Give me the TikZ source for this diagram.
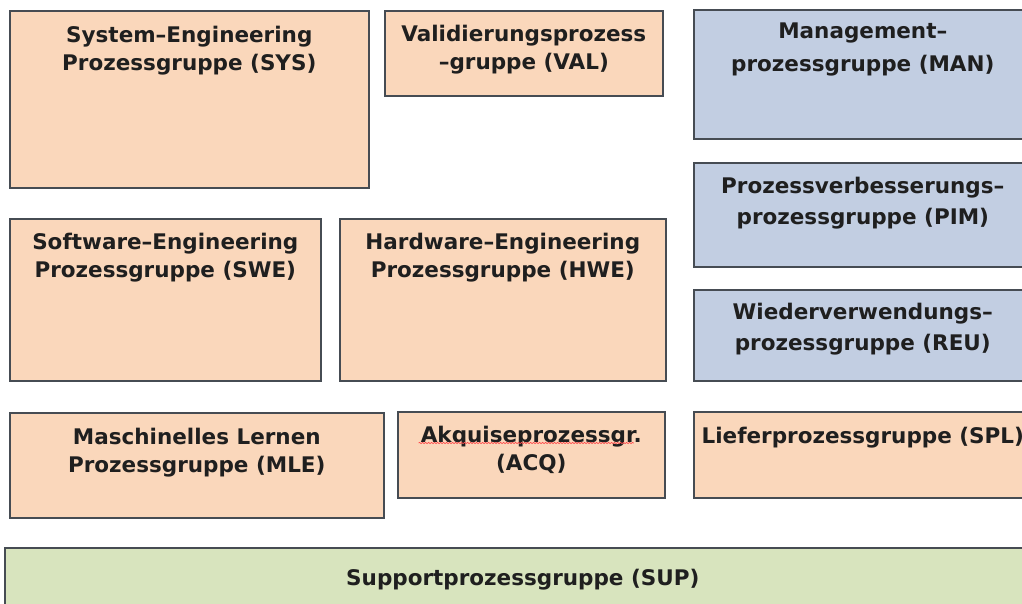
\documentclass[tikz,border=0pt]{standalone}
\usepackage{fontspec}
\setmainfont{DejaVu Sans}
\usetikzlibrary{shadows,decorations.pathmorphing}
\definecolor{peach}{HTML}{FAD7BB}
\definecolor{bluegrey}{HTML}{C2CEE2}
\definecolor{palegreen}{HTML}{D8E4BE}
\definecolor{edge}{HTML}{464C53}
\begin{document}
\begin{tikzpicture}[x=1pt,y=-1pt,
  box/.style={draw=edge, line width=1.6pt, rectangle, inner sep=0pt, anchor=north west,
    drop shadow={shadow xshift=1.2pt, shadow yshift=-1.2pt, opacity=0.35, fill=black}},
  orange/.style={box, fill=peach},
  blue/.style={box, fill=bluegrey},
  green/.style={box, fill=palegreen},
  txt/.style={anchor=north, inner sep=0pt, align=center, text=black!88,
    font=\fontsize{21.5}{28}\selectfont\bfseries},
  wtxt/.style={txt, font=\fontsize{21.5}{31}\selectfont\bfseries},
  wwtxt/.style={txt, font=\fontsize{21.5}{33}\selectfont\bfseries}]
\useasboundingbox (0,0) rectangle (1022,604);
\clip (0,0) rectangle (1022,604);
% boxes
\node[orange, minimum width=359pt, minimum height=177pt] (sys) at (9,10) {};
\node[orange, minimum width=278pt, minimum height=85pt] (val) at (384,10) {};
\node[blue, minimum width=338pt, minimum height=129pt] (man) at (693,9) {};
\node[blue, minimum width=338pt, minimum height=104pt] (pim) at (693,162) {};
\node[blue, minimum width=338pt, minimum height=91pt] (reu) at (693,289) {};
\node[orange, minimum width=311pt, minimum height=162pt] (swe) at (9,218) {};
\node[orange, minimum width=326pt, minimum height=162pt] (hwe) at (339,218) {};
\node[orange, minimum width=374pt, minimum height=105pt] (mle) at (9,412) {};
\node[orange, minimum width=267pt, minimum height=86pt] (acq) at (397,411) {};
\node[orange, minimum width=338pt, minimum height=86pt] (spl) at (693,411) {};
\node[green, minimum width=1036pt, minimum height=80pt] (sup) at (4,547) {};
% texts
\node[txt] (tsys) at ([yshift=-15.5pt]sys.north) {System–Engineering\\Prozessgruppe (SYS)};
\node[txt] (tval) at ([yshift=-14.5pt]val.north) {Validierungsprozess\\–gruppe (VAL)};
\node[wwtxt] (tman) at ([yshift=-13.5pt]man.north) {Management–\\prozessgruppe (MAN)};
\node[wtxt] (tpim) at ([yshift=-15pt]pim.north) {Prozessverbesserungs–\\prozessgruppe (PIM)};
\node[wtxt] (treu) at ([yshift=-14pt]reu.north) {Wiederverwendungs–\\prozessgruppe (REU)};
\node[txt] (tswe) at ([yshift=-14.5pt]swe.north) {Software–Engineering\\Prozessgruppe (SWE)};
\node[txt] (thwe) at ([yshift=-14.5pt]hwe.north) {Hardware–Engineering\\Prozessgruppe (HWE)};
\node[txt] (tmle) at ([yshift=-15.5pt]mle.north) {Maschinelles Lernen\\Prozessgruppe (MLE)};
\node[txt] (tacq) at ([yshift=-14.5pt]acq.north) {Akquiseprozessgr.\\(ACQ)};
\node[txt] (tspl) at ([yshift=-15.5pt]spl.north) {Lieferprozessgruppe (SPL)};
\node[txt] (tsup) at ([yshift=-21.5pt]sup.north) {Supportprozessgruppe (SUP)};
% spell-check underline
\draw[red!70, line width=0.7pt, decorate, decoration={snake, amplitude=0.6pt, segment length=3pt}]
  ([xshift=-2pt]tacq.north west |- 0,443) coordinate (u1) -- ([xshift=-8pt]tacq.north east |- 0,443) coordinate (u2);
\end{tikzpicture}
\end{document}
